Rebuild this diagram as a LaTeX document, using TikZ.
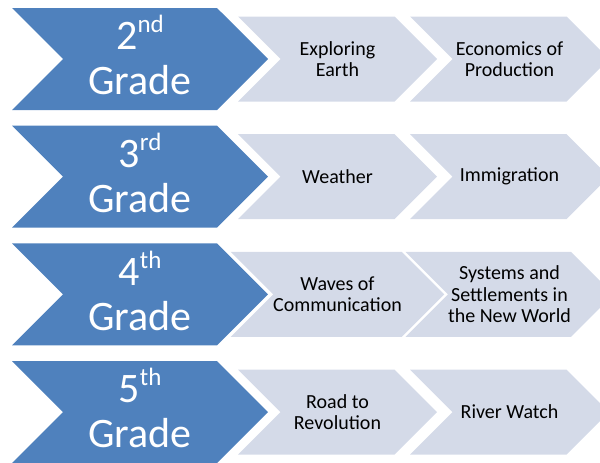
\documentclass[tikz,border=0pt]{standalone}
\usepackage{fontspec}
\setmainfont{Carlito}
\usetikzlibrary{shapes.symbols,positioning}
\definecolor{gradeblue}{RGB}{79, 129, 189}
\definecolor{topicgray}{RGB}{212, 218, 232}
\newcommand{\gradesup}[1]{\raisebox{17pt}[0pt][0pt]{\fontsize{25}{25}\selectfont #1}}

\begin{document}
\begin{tikzpicture}[x=1pt, y=-1pt, node distance=117.7pt,
            every node/.style={signal, signal from=west, signal to=east, signal pointer angle=90, inner sep=0pt, align=center},
            grade/.style={fill=gradeblue, text=white, minimum width=256pt, minimum height=102pt, font=\fontsize{42}{45}\selectfont},
            topic/.style={fill=topicgray, text=black, minimum width=199pt, minimum height=85pt, font=\fontsize{20}{21.5}\selectfont}]

            \useasboundingbox (0,0) rectangle (600,463);

            % Grados
            \node[grade] (second) at (140,59) {2\gradesup{nd}\\Grade};
            \node[grade, below of=second] (third) {3\gradesup{rd}\\Grade};
            \node[grade, below of=third] (fourth) {4\gradesup{th}\\Grade};
            \node[grade, below of=fourth] (fifth) {5\gradesup{th}\\Grade};

            % Temas de cada grado
            \node[topic, node distance=197.5pt, right of=second] (earth) {Exploring\\Earth};
            \node[topic, node distance=172pt, right of=earth] (production) {Economics of\\Production};
            \node[topic, node distance=197.5pt, right of=third] (weather) {Weather};
            \node[topic, node distance=172pt, right of=weather] (immigration) {Immigration};
            \node[topic, node distance=197.5pt, right of=fourth] (waves) {Waves of\\Communication};
            \node[topic, node distance=172pt, right of=waves] (settlements) {Systems and\\Settlements in\\the New World};
            \node[topic, node distance=197.5pt, right of=fifth] (road) {Road to\\Revolution};
            \node[topic, node distance=172pt, right of=road] (river) {River Watch};

        \end{tikzpicture}
\end{document}
